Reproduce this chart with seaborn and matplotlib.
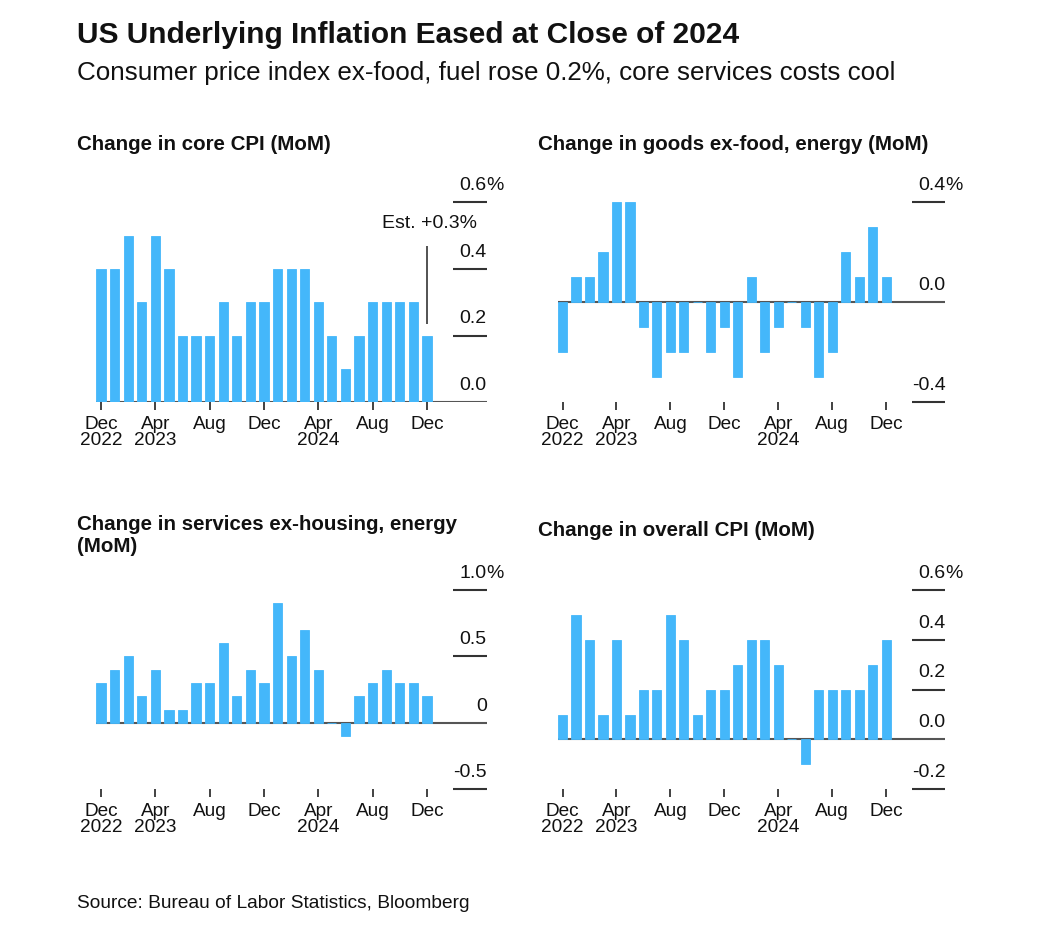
"""Four-panel bar chart: US underlying inflation at the close of 2024."""

import matplotlib
matplotlib.use("Agg")
import matplotlib.pyplot as plt
import pandas as pd
import seaborn as sns

# ---- data (MoM % change, Dec 2022 .. Dec 2024) ----
months = pd.date_range("2022-12-01", periods=25, freq="MS")
core_cpi = [0.4, 0.4, 0.5, 0.3, 0.5, 0.4, 0.2, 0.2, 0.2, 0.3, 0.2, 0.3, 0.3,
            0.4, 0.4, 0.4, 0.3, 0.2, 0.1, 0.2, 0.3, 0.3, 0.3, 0.3, 0.2]
goods_ex = [-0.2, 0.1, 0.1, 0.2, 0.4, 0.4, -0.1, -0.3, -0.2, -0.2, 0.0, -0.2, -0.1,
            -0.3, 0.1, -0.2, -0.1, 0.0, -0.1, -0.3, -0.2, 0.2, 0.1, 0.3, 0.1]
services_ex = [0.3, 0.4, 0.5, 0.2, 0.4, 0.1, 0.1, 0.3, 0.3, 0.6, 0.2, 0.4, 0.3,
               0.9, 0.5, 0.7, 0.4, 0.0, -0.1, 0.2, 0.3, 0.4, 0.3, 0.3, 0.2]
overall_cpi = [0.1, 0.5, 0.4, 0.1, 0.4, 0.1, 0.2, 0.2, 0.5, 0.4, 0.1, 0.2, 0.2,
               0.3, 0.4, 0.4, 0.3, 0.0, -0.1, 0.2, 0.2, 0.2, 0.2, 0.3, 0.4]

tick_idx = [0, 4, 8, 12, 16, 20, 24]
tick_labels = ["Dec\n2022", "Apr\n2023", "Aug", "Dec", "Apr\n2024", "Aug", "Dec"]

panels = [
    ("Change in core CPI (MoM)", core_cpi, [0.0, 0.2, 0.4, 0.6], ["0.0", "0.2", "0.4", "0.6"]),
    ("Change in goods ex-food, energy (MoM)", goods_ex, [-0.4, 0.0, 0.4], ["-0.4", "0.0", "0.4"]),
    ("Change in services ex-housing, energy\n(MoM)", services_ex, [-0.5, 0.0, 0.5, 1.0],
     ["-0.5", "0", "0.5", "1.0"]),
    ("Change in overall CPI (MoM)", overall_cpi, [-0.2, 0.0, 0.2, 0.4, 0.6],
     ["-0.2", "0.0", "0.2", "0.4", "0.6"]),
]

BLUE = "#44B7FA"
DARK = "#333333"
W, H = 1053, 925

sns.set_style("white")
plt.rcParams["font.family"] = ["Liberation Sans", "DejaVu Sans"]

fig = plt.figure(figsize=(W / 100, H / 100), dpi=100)


def px_axes(left, top, width, height):
    return fig.add_axes([left / W, 1 - (top + height) / H, width / W, height / H])


# axes boxes in pixels: (left, top, width, height)
boxes = [(94.2, 202.3, 392.5, 200.0), (555.8, 202.3, 389.6, 200.0),
         (94.2, 590.0, 392.5, 199.3), (555.8, 590.0, 389.6, 199.3)]
title_pos = [(77, 145), (538, 145), (77, 536), (538, 530)]

XMAX = 28.4
GRID_START = 25.9
BAR_W = 0.68

for (title, vals, yt, ylab), box, tpos in zip(panels, boxes, title_pos):
    ax = px_axes(*box)
    df = pd.DataFrame({"month": months.strftime("%Y-%m"), "value": vals})
    sns.barplot(data=df, x="month", y="value", color=BLUE, width=BAR_W,
                edgecolor=BLUE, linewidth=0.6, saturation=1, ax=ax, zorder=3)
    ax.set_xlim(-0.5, XMAX)
    ax.set_ylim(yt[0], yt[-1])
    for s in ax.spines.values():
        s.set_visible(False)
    ax.set_xlabel("")
    ax.set_ylabel("")
    ax.set_yticks([])

    # zero line and short right-hand gridlines
    ax.hlines(0, -BAR_W / 2, XMAX, color="#555555", lw=1.5, zorder=1)
    for v, lab in zip(yt, ylab):
        if v != 0:
            ax.hlines(v, GRID_START, XMAX, color=DARK, lw=1.5, zorder=1, clip_on=False)
        ax.annotate(lab, xy=(XMAX, v), xytext=(0, 12), textcoords="offset points",
                    ha="right", va="center", fontsize=14, color="#111111",
                    annotation_clip=False)
    ax.annotate("%", xy=(XMAX, yt[-1]), xytext=(0, 12), textcoords="offset points",
                ha="left", va="center", fontsize=14, color="#111111",
                annotation_clip=False)

    ax.set_xticks(tick_idx)
    ax.set_xticklabels(tick_labels, fontsize=13.7, color="#111111")
    for t in ax.get_xticklabels():
        t.set_linespacing(0.9)
    ax.tick_params(axis="x", bottom=True, length=6, width=1.3, color=DARK,
                   direction="out", pad=4)

    fig.text(tpos[0] / W, 1 - tpos[1] / H, title, fontsize=14.8, fontweight="bold",
             ha="left", va="center", color="#111111")

    if vals is core_cpi:
        last = len(vals) - 1
        ax.vlines(last, 0.235, 0.47, color="#444444", lw=1.3, zorder=4)
        ax.text(last + 0.2, 0.537, "Est. +0.3%", ha="center", va="center",
                fontsize=14, color="#111111")

fig.text(77 / W, 1 - 35 / H, "US Underlying Inflation Eased at Close of 2024",
         fontsize=21.5, fontweight="bold", ha="left", va="center", color="#111111")
fig.text(77 / W, 1 - 73 / H,
         "Consumer price index ex-food, fuel rose 0.2%, core services costs cool",
         fontsize=18.7, ha="left", va="center", color="#111111")
fig.text(77 / W, 1 - 903 / H, "Source: Bureau of Labor Statistics, Bloomberg",
         fontsize=13.75, ha="left", va="center", color="#111111")

fig.savefig("out.png", dpi=100, facecolor="white")
plt.close(fig)
